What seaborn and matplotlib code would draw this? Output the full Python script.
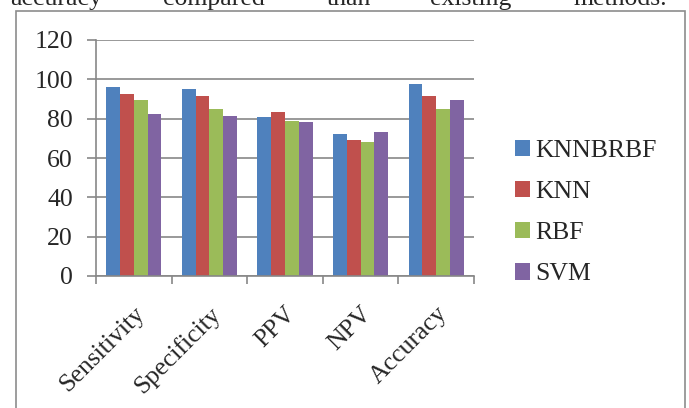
import matplotlib
matplotlib.use("Agg")
import matplotlib.pyplot as plt
from matplotlib.patches import Rectangle
import seaborn as sns
import pandas as pd

# Classification metrics (%) per method
metrics = ["Sensitivity", "Specificity", "PPV", "NPV", "Accuracy"]
methods = ["KNNBRBF", "KNN", "RBF", "SVM"]
knnbrbf = [96.3, 95.1, 80.9, 72.1, 97.5]
knn = [92.5, 91.7, 83.4, 69.2, 91.4]
rbf = [89.3, 85.1, 79.0, 68.0, 85.1]
svm = [82.6, 81.2, 78.3, 73.1, 89.3]
y_ticks = [0, 20, 40, 60, 80, 100, 120]
colors = ["#4F81BD", "#C0504D", "#9BBB59", "#8064A2"]

# Sentence fragment printed above the chart
caption_words = ["accuracy", "compared", "than", "existing", "methods."]
caption_x = [10, 163, 327, 430, 573]

series = {"KNNBRBF": knnbrbf, "KNN": knn, "RBF": rbf, "SVM": svm}
df = pd.DataFrame(
    [(m, name, v) for name in methods for m, v in zip(metrics, series[name])],
    columns=["metric", "method", "value"],
)

sns.set_style("white")
plt.rcParams["font.family"] = ["Liberation Serif", "DejaVu Serif"]

W, H = 689, 408
FS = 18.5
fig = plt.figure(figsize=(W / 100, H / 100), dpi=100)
fig.patch.set_facecolor("white")

ax = fig.add_axes([96 / W, 1 - 276 / H, (474 - 96) / W, (276 - 40) / H])
sns.barplot(
    data=df, x="metric", y="value", hue="method", order=metrics,
    hue_order=methods, palette=colors, width=0.73, saturation=1,
    edgecolor="none", linewidth=0, ax=ax,
)

grid_c = "#878787"
ax.set_xlim(-0.5, len(metrics) - 0.5)
ax.set_ylim(0, 120)
ax.set_yticks(y_ticks)
ax.set_yticklabels([str(t) for t in y_ticks], fontsize=FS)
ax.yaxis.grid(True, color=grid_c, linewidth=1.2)
ax.set_axisbelow(True)
ax.set_xlabel("")
ax.set_ylabel("")

for side in ["top", "right"]:
    ax.spines[side].set_visible(False)
for side in ["left", "bottom"]:
    ax.spines[side].set_color(grid_c)
    ax.spines[side].set_linewidth(1.2)

ax.tick_params(axis="y", left=True, length=6.5, width=1.2, color=grid_c, pad=10)
ax.set_xticks(range(len(metrics)))
ax.set_xticklabels(metrics, fontsize=FS, rotation=45, ha="right",
                   rotation_mode="anchor")
ax.tick_params(axis="x", which="major", length=0, pad=19)
ax.set_xticks([i - 0.5 for i in range(len(metrics) + 1)], minor=True)
ax.tick_params(axis="x", which="minor", bottom=True, length=6, width=1.2,
               color=grid_c)

handles, labels = ax.get_legend_handles_labels()
if ax.legend_:
    ax.legend_.remove()
fig.legend(
    handles, labels, loc="center left", bbox_to_anchor=(515 / W, 1 - 212.5 / H),
    frameon=False, fontsize=FS, handlelength=0.6, handleheight=0.6,
    handletextpad=0.2, labelspacing=0.74, borderpad=0, borderaxespad=0,
)

# Chart frame
fig.patches.append(Rectangle(
    (16 / W, -0.05), (685 - 16) / W, 1.05 - 11 / H,
    transform=fig.transFigure, fill=False, edgecolor="#8c8c8c", linewidth=1.2,
))

for word, x in zip(caption_words, caption_x):
    fig.text(x / W, 1 - 5 / H, word, fontsize=FS, va="baseline", ha="left")

fig.savefig("out.png", dpi=100)
